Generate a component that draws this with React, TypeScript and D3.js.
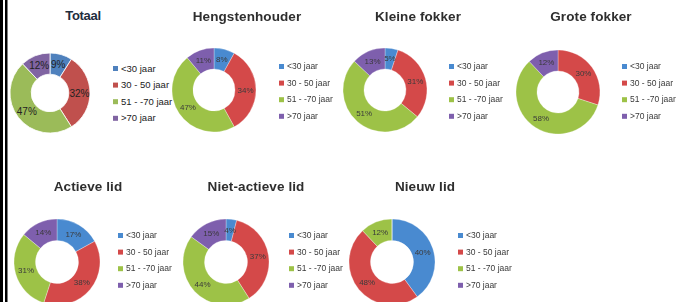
import * as d3 from "d3";

// age groups shared by every panel
const ageGroups = ["<30 jaar", "30 - 50 jaar", "51 - -70 jaar", ">70 jaar"];
const groupColors = ["#4F81BD", "#C0504D", "#9BBB59", "#8064A2"];
// the pasted (blurry) panels came out a bit brighter
const pastedColors = ["#4A8AD0", "#D44A4A", "#9DC247", "#7E5EAD"];

const panelTitles = [
  "Totaal",
  "Hengstenhouder",
  "Kleine fokker",
  "Grote fokker",
  "Actieve lid",
  "Niet-actieve lid",
  "Nieuw lid",
];

// percentages per panel, same order as ageGroups
const totaal = [9, 32, 47, 12];
const hengstenhouder = [8, 34, 47, 11];
const kleineFokker = [5, 31, 51, 13];
const groteFokker = [0, 30, 58, 12];
const actieveLid = [17, 38, 31, 14];
const nietActieveLid = [4, 37, 44, 15];
const nieuwLid = [40, 48, 12, 0];

const panelValues = [totaal, hengstenhouder, kleineFokker, groteFokker, actieveLid, nietActieveLid, nieuwLid];

// where each panel sits on the page
const layout = [
  { tx: 83, ty: 17, cx: 50, cy: 93, r: 40, lx: 113, ly: 69, sharp: true },
  { tx: 247, ty: 17, cx: 214, cy: 90, r: 42, lx: 279, ly: 67 },
  { tx: 418, ty: 17, cx: 385, cy: 90, r: 42, lx: 449, ly: 67 },
  { tx: 591, ty: 17, cx: 558, cy: 92, r: 42, lx: 622, ly: 67 },
  { tx: 88, ty: 187, cx: 57, cy: 262, r: 43, lx: 118, ly: 236 },
  { tx: 256, ty: 187, cx: 226, cy: 262, r: 43, lx: 289, ly: 236 },
  { tx: 425, ty: 187, cx: 392, cy: 262, r: 43, lx: 458, ly: 236 },
];

const W = 680;
const H = 302;

function Donut({ values, title, pos }: { values: number[]; title: string; pos: (typeof layout)[number] }) {
  const pie = d3.pie<number>().sort(null).value((d) => d);
  const arcs = pie(values);
  const inner = pos.r * (pos.sharp ? 0.47 : 0.5);
  const arc = d3.arc<d3.PieArcDatum<number>>().innerRadius(inner).outerRadius(pos.r);
  const labelArc = d3
    .arc<d3.PieArcDatum<number>>()
    .innerRadius((inner + pos.r) / 2)
    .outerRadius((inner + pos.r) / 2);
  const colors = pos.sharp ? groupColors : pastedColors;
  const textCol = pos.sharp ? "#222" : "#3a3a3a";
  const rowGap = 16.6;

  return (
    <g filter={pos.sharp ? undefined : "url(#soft)"}>
      <text
        x={pos.tx}
        y={pos.ty}
        textAnchor="middle"
        dominantBaseline="middle"
        fontFamily="'Liberation Sans', Arial, sans-serif"
        fontWeight="bold"
        fontSize={pos.sharp ? 13 : 13.5}
        fill={pos.sharp ? "#1F2D3D" : "#2e2e2e"}
        letterSpacing={pos.sharp ? -0.3 : 0.1}
      >
        {title}
      </text>
      <g transform={`translate(${pos.cx},${pos.cy})`}>
        {arcs.map((a, i) => (
          <path key={i} d={arc(a) ?? ""} fill={colors[i]} stroke="#fff" strokeWidth={pos.sharp ? 0.8 : 0.3} />
        ))}
        {arcs.map((a, i) => {
          if (a.data <= 0) return null;
          const [x, y] = labelArc.centroid(a);
          return (
            <text
              key={i}
              x={x}
              y={y}
              textAnchor="middle"
              dominantBaseline="central"
              fontFamily="'Liberation Sans', Arial, sans-serif"
              fontSize={pos.sharp ? 10 : 8}
              fill={textCol}
            >
              {a.data}%
            </text>
          );
        })}
      </g>
      {ageGroups.map((g, i) => (
        <g key={g} transform={`translate(${pos.lx},${pos.ly + i * rowGap})`}>
          <rect x={0} y={-3} width={5} height={5} fill={colors[i]} />
          <text
            x={8}
            y={0}
            dominantBaseline="middle"
            fontFamily="'Liberation Sans', Arial, sans-serif"
            fontSize={pos.sharp ? 9.5 : 8.5}
            fill={textCol}
          >
            {g}
          </text>
        </g>
      ))}
    </g>
  );
}

export default function App() {
  return (
    <svg
      width={W}
      height={H}
      style={{ position: "absolute", left: 0, top: 0, background: "#fff" }}
    >
      <defs>
        <filter id="soft" x="-5%" y="-5%" width="110%" height="110%">
          <feGaussianBlur stdDeviation={0.45} />
        </filter>
      </defs>
      <rect x={0} y={0} width={W} height={H} fill="#fff" />
      {panelTitles.map((t, i) => (
        <Donut key={t} title={t} values={panelValues[i]} pos={layout[i]} />
      ))}
      {/* double border on the left edge */}
      <rect x={0} y={0} width={3} height={H} fill="#000" />
      <rect x={5} y={0} width={2.5} height={H} fill="#000" />
    </svg>
  );
}
